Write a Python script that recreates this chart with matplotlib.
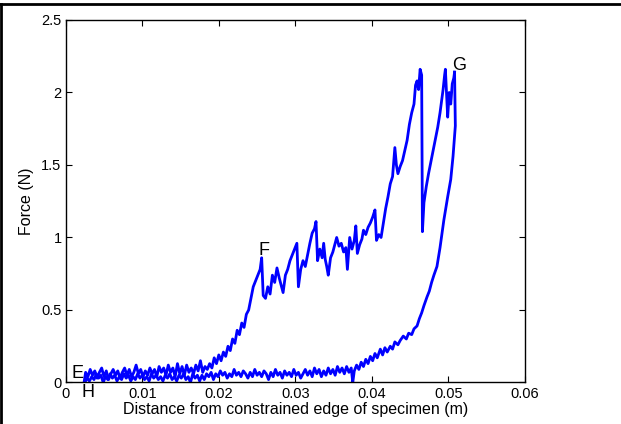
import matplotlib
matplotlib.use('Agg')
import matplotlib.pyplot as plt
from matplotlib.lines import Line2D

# loading path E -> F -> G
load_x = [0.0024, 0.0026, 0.0029, 0.0032, 0.0035, 0.0038, 0.0041, 0.0044, 0.0047, 0.0050,
          0.0053, 0.0056, 0.0059, 0.0062, 0.0065, 0.0068, 0.0071, 0.0074, 0.0077, 0.0080,
          0.0083, 0.0086, 0.0089, 0.0092, 0.0095, 0.0098, 0.0101, 0.0104, 0.0107, 0.0110,
          0.0113, 0.0116, 0.0119, 0.0122, 0.0125, 0.0128, 0.0131, 0.0134, 0.0137, 0.0140,
          0.0143, 0.0146, 0.0149, 0.0152, 0.0155, 0.0158, 0.0161, 0.0164, 0.0167, 0.0170,
          0.0173, 0.0176, 0.0179, 0.0182, 0.0185, 0.0188, 0.0191, 0.0194, 0.0197, 0.0200,
          0.0203, 0.0206, 0.0209, 0.0212, 0.0215, 0.0218, 0.0221, 0.0224, 0.0227, 0.0230,
          0.0233, 0.0236, 0.0239, 0.0242, 0.0245, 0.0248, 0.0251, 0.0254, 0.0256, 0.0258,
          0.0261, 0.0264, 0.0267, 0.0270, 0.0273, 0.0276, 0.0279, 0.0282, 0.0284, 0.0287,
          0.0290, 0.0293, 0.0296, 0.0299, 0.0302, 0.0304, 0.0307, 0.0310, 0.0313, 0.0316,
          0.0319, 0.0322, 0.0325, 0.0327, 0.0329, 0.0332, 0.0335, 0.0337, 0.0339, 0.0341,
          0.0343, 0.0346, 0.0349, 0.0352, 0.0354, 0.0357, 0.0360, 0.0363, 0.0366, 0.0368,
          0.0371, 0.0374, 0.0377, 0.0379, 0.0381, 0.0384, 0.0387, 0.0389, 0.0392, 0.0395,
          0.0398, 0.0401, 0.0404, 0.0406, 0.0409, 0.0412, 0.0415, 0.0418, 0.0421, 0.0424,
          0.0427, 0.0430, 0.0432, 0.0434, 0.0437, 0.0440, 0.0443, 0.0446, 0.0449, 0.0452,
          0.0455, 0.0457, 0.0459, 0.0461, 0.0463, 0.0465, 0.0466, 0.0468, 0.0471, 0.0474,
          0.0477, 0.0480, 0.0483, 0.0486, 0.0489, 0.0491, 0.0493, 0.0495, 0.0496, 0.0498,
          0.0499, 0.0501, 0.0503, 0.0505, 0.0507, 0.0508]
load_f = [0.00, 0.07, 0.04, 0.09, 0.05, 0.08, 0.03, 0.07, 0.10, 0.04,
          0.08, 0.02, 0.06, 0.09, 0.05, 0.08, 0.03, 0.07, 0.10, 0.05,
          0.09, 0.04, 0.07, 0.12, 0.06, 0.09, 0.04, 0.08, 0.05, 0.10,
          0.06, 0.09, 0.04, 0.11, 0.07, 0.10, 0.05, 0.12, 0.07, 0.10,
          0.04, 0.13, 0.06, 0.11, 0.05, 0.12, 0.07, 0.10, 0.06, 0.12,
          0.08, 0.15, 0.07, 0.11, 0.09, 0.13, 0.10, 0.17, 0.13, 0.19,
          0.15, 0.21, 0.18, 0.25, 0.22, 0.30, 0.27, 0.36, 0.33, 0.41,
          0.38, 0.47, 0.50, 0.58, 0.66, 0.70, 0.74, 0.78, 0.86, 0.60,
          0.58, 0.66, 0.61, 0.74, 0.69, 0.79, 0.72, 0.66, 0.62, 0.74,
          0.78, 0.84, 0.88, 0.92, 0.96, 0.66, 0.78, 0.84, 0.80, 0.88,
          0.96, 1.03, 1.06, 1.11, 0.84, 0.92, 0.86, 0.96, 0.85, 0.80,
          0.74, 0.86, 0.90, 0.96, 1.00, 0.94, 0.96, 0.90, 0.93, 0.78,
          1.00, 0.92, 0.98, 1.08, 0.89, 0.95, 0.99, 1.05, 1.02, 1.07,
          1.10, 1.14, 1.19, 0.98, 1.02, 1.00, 1.10, 1.20, 1.28, 1.37,
          1.42, 1.62, 1.50, 1.44, 1.49, 1.53, 1.60, 1.67, 1.78, 1.86,
          1.92, 2.05, 2.08, 2.02, 2.16, 2.12, 1.04, 1.24, 1.35, 1.44,
          1.52, 1.60, 1.68, 1.76, 1.86, 1.94, 2.02, 2.12, 2.16, 1.95,
          1.83, 2.00, 1.92, 2.06, 2.10, 2.14]

# unloading path G -> H
unload_x = [0.0508, 0.0509, 0.0506, 0.0503, 0.0499, 0.0494, 0.0489, 0.0485, 0.0481, 0.0478,
            0.0475, 0.0472, 0.0468, 0.0465, 0.0462, 0.0459, 0.0455, 0.0452, 0.0448, 0.0445,
            0.0441, 0.0437, 0.0434, 0.0430, 0.0427, 0.0424, 0.0420, 0.0417, 0.0414, 0.0411,
            0.0407, 0.0404, 0.0401, 0.0398, 0.0395, 0.0392, 0.0389, 0.0386, 0.0383, 0.0380,
            0.0377, 0.0375, 0.0373, 0.0370, 0.0367, 0.0364, 0.0361, 0.0358, 0.0355, 0.0352,
            0.0349, 0.0346, 0.0343, 0.0340, 0.0337, 0.0334, 0.0331, 0.0328, 0.0325, 0.0322,
            0.0319, 0.0316, 0.0313, 0.0310, 0.0307, 0.0304, 0.0301, 0.0298, 0.0295, 0.0292,
            0.0289, 0.0286, 0.0283, 0.0280, 0.0277, 0.0274, 0.0271, 0.0268, 0.0265, 0.0262,
            0.0259, 0.0256, 0.0253, 0.0250, 0.0247, 0.0244, 0.0241, 0.0238, 0.0235, 0.0232,
            0.0229, 0.0226, 0.0223, 0.0220, 0.0217, 0.0214, 0.0211, 0.0208, 0.0205, 0.0202,
            0.0199, 0.0196, 0.0193, 0.0190, 0.0187, 0.0184, 0.0181, 0.0178, 0.0175, 0.0172,
            0.0169, 0.0166, 0.0163, 0.0160, 0.0157, 0.0154, 0.0151, 0.0148, 0.0145, 0.0142,
            0.0139, 0.0136, 0.0133, 0.0130, 0.0127, 0.0124, 0.0121, 0.0118, 0.0115, 0.0112,
            0.0109, 0.0106, 0.0103, 0.0100, 0.0097, 0.0094, 0.0091, 0.0088, 0.0085, 0.0082,
            0.0079, 0.0076, 0.0073, 0.0070, 0.0067, 0.0064, 0.0061, 0.0058, 0.0055, 0.0052,
            0.0049, 0.0046, 0.0043, 0.0040, 0.0037, 0.0034, 0.0031, 0.0028, 0.0025]
unload_f = [2.14, 1.77, 1.56, 1.40, 1.28, 1.12, 0.93, 0.80, 0.74, 0.69,
            0.63, 0.59, 0.53, 0.48, 0.44, 0.39, 0.37, 0.33, 0.34, 0.30,
            0.32, 0.29, 0.26, 0.28, 0.23, 0.25, 0.21, 0.24, 0.19, 0.23,
            0.17, 0.20, 0.15, 0.18, 0.13, 0.16, 0.11, 0.14, 0.09, 0.12,
            0.08, 0.00, 0.10, 0.07, 0.11, 0.06, 0.10, 0.07, 0.11, 0.05,
            0.09, 0.06, 0.10, 0.05, 0.08, 0.04, 0.09, 0.06, 0.10, 0.04,
            0.08, 0.05, 0.09, 0.06, 0.03, 0.07, 0.05, 0.09, 0.04, 0.07,
            0.05, 0.08, 0.03, 0.07, 0.05, 0.09, 0.04, 0.07, 0.02, 0.06,
            0.08, 0.04, 0.07, 0.05, 0.09, 0.04, 0.07, 0.03, 0.06, 0.08,
            0.04, 0.07, 0.05, 0.09, 0.04, 0.06, 0.03, 0.07, 0.05, 0.08,
            0.04, 0.06, 0.02, 0.07, 0.04, 0.06, 0.02, 0.05, 0.01, 0.05,
            0.03, 0.06, 0.00, 0.04, 0.02, 0.06, 0.03, 0.05, 0.01, 0.04,
            0.02, 0.06, 0.03, 0.05, 0.01, 0.04, 0.02, 0.05, 0.03, 0.06,
            0.01, 0.04, 0.02, 0.05, 0.03, 0.06, 0.02, 0.04, 0.01, 0.05,
            0.03, 0.06, 0.02, 0.04, 0.01, 0.05, 0.03, 0.06, 0.02, 0.04,
            0.00, 0.05, 0.03, 0.06, 0.02, 0.04, 0.01, 0.03, 0.00]

# point labels and where they sit
point_names = ['E', 'F', 'G', 'H']
point_x = [0.0008, 0.0252, 0.0505, 0.0021]
point_y = [0.005, 0.85, 2.13, -0.13]

x_ticks = [0, 0.01, 0.02, 0.03, 0.04, 0.05, 0.06]
x_ticklabels = ['0', '0.01', '0.02', '0.03', '0.04', '0.05', '0.06']
y_ticks = [0, 0.5, 1, 1.5, 2, 2.5]
y_ticklabels = ['0', '0.5', '1', '1.5', '2', '2.5']

plt.rcParams['font.family'] = ['Liberation Sans', 'DejaVu Sans']

fig = plt.figure(figsize=(6.21, 4.24), dpi=100)
ax = fig.add_axes([0.1058, 0.0979, 0.7396, 0.855])

ax.plot(load_x, load_f, color='#0000ff', linewidth=2.0)
ax.plot(unload_x, unload_f, color='#0000ff', linewidth=2.0)

for name, px, py in zip(point_names, point_x, point_y):
    ax.text(px, py, name, fontsize=13, ha='left', va='bottom', clip_on=False)

ax.set_xlim(0, 0.06)
ax.set_ylim(0, 2.5)
ax.set_xticks(x_ticks)
ax.set_xticklabels(x_ticklabels)
ax.set_yticks(y_ticks)
ax.set_yticklabels(y_ticklabels)
ax.tick_params(direction='in', top=True, right=True, length=4, width=0.8,
               labelsize=10.5, pad=3)
for sp in ax.spines.values():
    sp.set_linewidth(1.0)

ax.set_xlabel('Distance from constrained edge of specimen (m)', fontsize=11.5, labelpad=1)
ax.set_ylabel('Force (N)', fontsize=11.5, labelpad=5)

# black frame on top and left edges of the picture
fig.add_artist(Line2D([0, 1], [0.9906, 0.9906], color='black', linewidth=2,
                      transform=fig.transFigure))
fig.add_artist(Line2D([0.0016, 0.0016], [0, 0.9906], color='black', linewidth=2,
                      transform=fig.transFigure))

fig.savefig('out.png', dpi=100)
